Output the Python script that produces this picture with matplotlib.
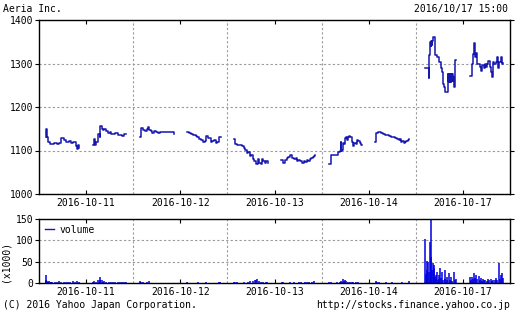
import matplotlib
matplotlib.use("Agg")
import matplotlib.pyplot as plt

plt.rcParams["font.family"] = ["DejaVu Sans Mono", "DejaVu Sans"]
plt.rcParams["font.size"] = 7

dates = ["2016-10-11", "2016-10-12", "2016-10-13", "2016-10-14", "2016-10-17"]

# intraday price steps: (minutes after 9:00, yen); 0-150 = morning, 210-360 = afternoon
am_1011 = [(0, 1130), (1, 1150), (4, 1130), (11, 1120), (20, 1115), (35, 1117), (50, 1115), (60, 1118),
           (70, 1128), (80, 1124), (90, 1120), (105, 1122), (112, 1118), (122, 1120), (134, 1110),
           (140, 1104), (144, 1112), (148, 1105), (150, 1105)]
pm_1011 = [(210, 1113), (214, 1126), (220, 1113), (226, 1120), (233, 1138), (240, 1130), (244, 1157),
           (250, 1150), (256, 1148), (262, 1150), (268, 1145), (278, 1140), (285, 1142), (292, 1138),
           (300, 1137), (310, 1140), (320, 1135), (330, 1136), (340, 1133), (350, 1138), (360, 1138)]
am_1012 = [(0, 1132), (4, 1151), (12, 1148), (22, 1145), (30, 1150), (36, 1155), (42, 1148), (48, 1145),
           (55, 1140), (62, 1145), (72, 1142), (80, 1140), (90, 1142), (100, 1143), (115, 1142),
           (130, 1143), (145, 1142), (150, 1137)]
pm_1012 = [(210, 1143), (218, 1140), (226, 1138), (238, 1135), (249, 1133), (256, 1130), (263, 1127),
           (272, 1125), (281, 1120), (290, 1122), (296, 1133), (305, 1128), (315, 1120), (323, 1122),
           (330, 1125), (338, 1118), (345, 1120), (352, 1130), (360, 1130)]
am_1013 = [(0, 1127), (6, 1115), (13, 1113), (25, 1112), (35, 1110), (42, 1105), (50, 1101), (56, 1095),
           (62, 1097), (69, 1088), (75, 1090), (82, 1080), (90, 1077), (96, 1070), (102, 1068),
           (108, 1080), (113, 1072), (118, 1068), (124, 1080), (130, 1075), (136, 1072), (143, 1077),
           (150, 1072)]
pm_1013 = [(210, 1078), (218, 1072), (227, 1078), (236, 1083), (241, 1086), (250, 1090), (258, 1082),
           (267, 1080), (274, 1082), (280, 1075), (287, 1078), (294, 1076), (303, 1072), (310, 1075),
           (316, 1074), (323, 1078), (330, 1076), (337, 1080), (343, 1082), (350, 1085), (356, 1088),
           (360, 1090)]
am_1014 = [(5, 1068), (12, 1090), (30, 1090), (42, 1097), (52, 1100), (56, 1120), (58, 1100), (62, 1102),
           (65, 1118), (70, 1115), (74, 1128), (80, 1130), (83, 1125), (88, 1130), (92, 1133), (98, 1130),
           (104, 1120), (110, 1110), (116, 1118), (122, 1115), (128, 1125), (134, 1122), (140, 1118),
           (146, 1112), (150, 1112)]
pm_1014 = [(210, 1120), (214, 1140), (222, 1143), (230, 1142), (237, 1140), (244, 1138), (252, 1136),
           (262, 1135), (270, 1133), (279, 1132), (288, 1130), (297, 1128), (305, 1127), (315, 1125),
           (320, 1127), (324, 1120), (330, 1122), (336, 1118), (342, 1120), (348, 1122), (354, 1124),
           (360, 1126)]
am_1017 = [(12, 1289), (23, 1289), (27, 1266), (30, 1320), (34, 1340), (35, 1350), (36, 1340), (37, 1350),
           (38, 1340), (39, 1352), (40, 1342), (41, 1352), (45, 1360), (57, 1320), (65, 1315), (75, 1304),
           (82, 1290), (87, 1280), (90, 1254), (94, 1245), (101, 1235), (112, 1260), (113, 1275),
           (114, 1259), (115, 1274), (116, 1258), (117, 1275), (118, 1260), (119, 1274), (120, 1259),
           (121, 1275), (122, 1258), (123, 1274), (124, 1260), (125, 1275), (126, 1259), (127, 1274),
           (128, 1258), (129, 1275), (130, 1260), (131, 1274), (132, 1259), (133, 1275), (134, 1260),
           (136, 1270), (139, 1247), (143, 1270), (146, 1308), (150, 1308)]
pm_1017 = [(213, 1272), (221, 1300), (225, 1322), (231, 1346), (235, 1315), (239, 1325), (243, 1300),
           (248, 1300), (257, 1292), (261, 1283), (266, 1297), (272, 1290), (278, 1300), (284, 1292),
           (288, 1300), (294, 1305), (302, 1293), (306, 1280), (310, 1268), (315, 1303), (319, 1300),
           (328, 1304), (334, 1316), (338, 1290), (343, 1303), (347, 1303), (350, 1316), (355, 1300),
           (360, 1302)]

# volume (x1000): (minutes after 9:00, shares)
vol_1011 = [(0, 18), (2, 8), (5, 5), (10, 3), (15, 4), (20, 2), (25, 3), (30, 2), (40, 3), (50, 2), (60, 4),
            (70, 2), (80, 2), (90, 3), (100, 2), (110, 2), (120, 5), (130, 3), (140, 4), (148, 3),
            (210, 2), (215, 4), (225, 3), (232, 6), (240, 8), (244, 13), (250, 6), (256, 3), (262, 4),
            (270, 2), (280, 3), (290, 2), (300, 3), (310, 2), (320, 3), (330, 2), (340, 3), (350, 2),
            (358, 3)]
vol_1012 = [(0, 4), (5, 2), (12, 2), (20, 1), (30, 2), (40, 4), (55, 1), (70, 1), (90, 1), (110, 1),
            (130, 1), (148, 1), (210, 2), (225, 1), (240, 1), (260, 2), (280, 1), (295, 3), (310, 1),
            (325, 1), (340, 1), (352, 3), (358, 2)]
vol_1013 = [(0, 3), (6, 2), (15, 2), (30, 1), (45, 2), (60, 2), (70, 4), (82, 5), (92, 8), (98, 6),
            (104, 9), (110, 4), (118, 3), (128, 2), (140, 2), (148, 3), (212, 3), (220, 2), (235, 1),
            (250, 2), (265, 2), (280, 1), (290, 2), (300, 2), (315, 2), (325, 2), (335, 2), (345, 3),
            (355, 4)]
vol_1014 = [(5, 3), (12, 2), (25, 1), (40, 2), (52, 3), (56, 5), (62, 3), (65, 9), (70, 4), (74, 7),
            (80, 4), (88, 3), (95, 2), (104, 3), (112, 2), (122, 2), (134, 2), (146, 1), (212, 4),
            (216, 3), (225, 2), (240, 1), (255, 2), (270, 1), (285, 2), (300, 1), (315, 1), (330, 2),
            (345, 1), (358, 4)]
vol_1017 = [(12, 103), (15, 20), (19, 51), (22, 30), (26, 50), (30, 25), (33, 95), (36, 60), (39, 147),
            (42, 30), (45, 46), (49, 35), (52, 42), (55, 15), (58, 19), (61, 10), (65, 26), (68, 8),
            (72, 19), (75, 10), (80, 34), (84, 12), (89, 26), (92, 8), (98, 30), (102, 10), (107, 15),
            (111, 6), (117, 23), (121, 8), (127, 15), (131, 5), (139, 26), (144, 6), (148, 10),
            (213, 15), (218, 8), (221, 15), (226, 10), (231, 23), (236, 12), (240, 18), (245, 9),
            (250, 16), (255, 6), (260, 12), (265, 5), (270, 10), (275, 6), (280, 8), (286, 5), (292, 10),
            (298, 6), (304, 9), (310, 5), (316, 8), (322, 6), (328, 12), (334, 8), (341, 46), (346, 10),
            (352, 19), (356, 24), (359, 12)]

price_sessions = [(0, am_1011), (0, pm_1011), (1, am_1012), (1, pm_1012), (2, am_1013), (2, pm_1013),
                  (3, am_1014), (3, pm_1014), (4, am_1017), (4, pm_1017)]
vol_days = [vol_1011, vol_1012, vol_1013, vol_1014, vol_1017]

PRICE_C = "#1515b0"
VOL_C = "#0000e0"
GRID = dict(color="#9a9a9a", lw=0.8, linestyle=(0, (2, 2)))


def xpos(day, t):
    # each day panel spans 8:30-15:30
    return day + (t + 30) / 420


W, H = 515, 318
fig = plt.figure(figsize=(W / 100, H / 100), dpi=100)
ax = fig.add_axes([39 / W, 1 - 194 / H, 471 / W, 174 / H])
axv = fig.add_axes([39 / W, 1 - 283 / H, 471 / W, 64 / H])

for day, sess in price_sessions:
    xs = [xpos(day, t) for t, _ in sess]
    ys = [p for _, p in sess]
    ax.step(xs, ys, where="post", color=PRICE_C, lw=1.1)

for day, vols in enumerate(vol_days):
    xs = [xpos(day, t) for t, _ in vols]
    vs = [v for _, v in vols]
    axv.vlines(xs, 0, vs, color=VOL_C, lw=1.1)

for a in (ax, axv):
    a.set_xlim(0, 5)
    a.set_xticks([d + 0.5 for d in range(5)])
    a.set_xticklabels(dates)
    a.set_xticks(range(1, 5), minor=True)
    a.tick_params(axis="x", which="major", direction="in", length=3, top=True, pad=3, width=0.8)
    a.tick_params(axis="x", which="minor", length=0)
    a.tick_params(axis="y", direction="out", length=3, right=True, width=0.8, pad=1)
    a.grid(True, axis="x", which="minor", **GRID)
    a.grid(True, axis="y", which="major", **GRID)
    for s in a.spines.values():
        s.set_linewidth(1.0)

ax.set_ylim(1000, 1400)
ax.set_yticks(range(1000, 1401, 100))
axv.set_ylim(0, 150)
axv.set_yticks([0, 50, 100, 150])

axv.legend([plt.Line2D([], [], color=PRICE_C, lw=1)], ["volume"], loc="upper left", frameon=False,
           handlelength=0.9, handletextpad=0.6, borderaxespad=0.2, fontsize=7)
fig.text(5 / W, 1 - 261 / H, "(x1000)", rotation=90, ha="center", va="center")

fig.text(3 / W, 1 - 9 / H, "Aeria Inc.", ha="left", va="center")
fig.text(508 / W, 1 - 9 / H, "2016/10/17 15:00", ha="right", va="center")
fig.text(3 / W, 1 - 305 / H, "(C) 2016 Yahoo Japan Corporation.", ha="left", va="center")
fig.text(510 / W, 1 - 305 / H, "http://stocks.finance.yahoo.co.jp", ha="right", va="center")

fig.savefig("out.png", dpi=100)
